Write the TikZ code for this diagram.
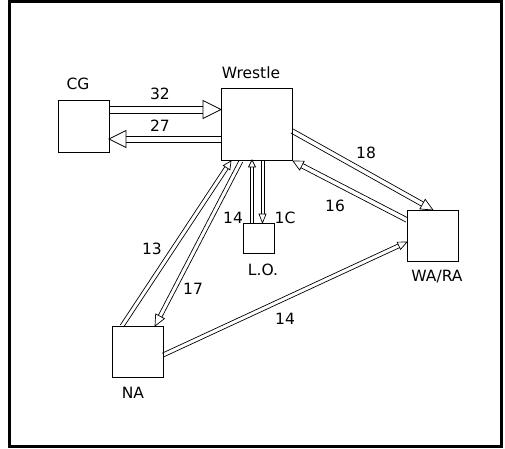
\documentclass[tikz,border=0pt]{standalone}
\usepackage{fontspec}
\setmainfont{DejaVu Sans}
\usetikzlibrary{calc}
\tikzset{
  box/.style={draw, line width=0.8pt, inner sep=0pt},
  conn/.style={draw, line width=0.7pt, line join=miter},
  lbl/.style={font=\fontsize{15.5}{17}\selectfont, inner sep=0pt},
}
\newcommand\dblarrow[5]{%
  \coordinate (dbase) at ($(#2)!#4!(#1)$);
  \draw[conn] ($(#1)!#3!90:(#2)$) -- ($(dbase)!#3!90:(#2)$);
  \draw[conn] ($(#1)!#3!-90:(#2)$) -- ($(dbase)!#3!-90:(#2)$);
  \draw[conn] ($(dbase)!#5!90:(#2)$) -- (#2) -- ($(dbase)!#5!-90:(#2)$) -- cycle;
}
\begin{document}
\begin{tikzpicture}[x=1pt, y=-1pt]
\useasboundingbox (0,0) rectangle (505,448);
\draw[line width=3pt] (9.5,1.5) rectangle (501.5,446);

% boxes
\node[box, minimum width=51pt, minimum height=52pt] (CG) at (83.5,126) {};
\node[box, minimum width=71pt, minimum height=72pt] (W) at (256.5,124) {};
\node[box, minimum width=31pt, minimum height=30pt] (LO) at (258.5,238) {};
\node[box, minimum width=51pt, minimum height=51pt] (WR) at (432.5,235.5) {};
\node[box, minimum width=51pt, minimum height=51pt] (NA) at (137.5,351.5) {};

% box labels
\node[lbl] (tCG) at (78,84) {CG};
\node[lbl] (tW) at (251,73) {Wrestle};
\node[lbl] (tLO) at (263,270) {L.O.};
\node[lbl] (tWR) at (437,277) {WA/RA};
\node[lbl] (tNA) at (133,393) {NA};

% connector end points
\coordinate (a32s) at (109,109.5);  \coordinate (a32e) at (221,109.5);
\coordinate (a27s) at (221,139);    \coordinate (a27e) at (109,139);
\coordinate (a18s) at (292,131);    \coordinate (a18e) at (433,210);
\coordinate (a16s) at (407,220);    \coordinate (a16e) at (293,161);
\coordinate (a14s) at (252,223);    \coordinate (a14e) at (252,160);
\coordinate (a1Cs) at (262.5,160);  \coordinate (a1Ce) at (262.5,223);
\coordinate (a13s) at (122,326);    \coordinate (a13e) at (231,161);
\coordinate (a17s) at (241,161);    \coordinate (a17e) at (155,326);
\coordinate (b14s) at (163,355);    \coordinate (b14e) at (407,242);

\dblarrow{a32s}{a32e}{3.5pt}{18pt}{9pt}
\dblarrow{a27s}{a27e}{3pt}{17pt}{8.5pt}
\dblarrow{a18s}{a18e}{2.3pt}{12pt}{5.5pt}
\dblarrow{a16s}{a16e}{2.3pt}{10pt}{5pt}
\dblarrow{a14s}{a14e}{1.8pt}{7pt}{3.5pt}
\dblarrow{a1Cs}{a1Ce}{1.6pt}{9pt}{3.5pt}
\dblarrow{a13s}{a13e}{2pt}{8pt}{4pt}
\dblarrow{a17s}{a17e}{2pt}{11pt}{5pt}
\dblarrow{b14s}{b14e}{2pt}{9pt}{4pt}

% connector labels
\node[lbl] (l32) at (160,94) {32};
\node[lbl] (l27) at (160,126) {27};
\node[lbl] (l18) at (366,153) {18};
\node[lbl] (l16) at (335,206) {16};
\node[lbl] (l14a) at (233,218) {14};
\node[lbl] (l1C) at (285,218) {1C};
\node[lbl] (l13) at (152,249) {13};
\node[lbl] (l17) at (193,289) {17};
\node[lbl] (l14b) at (285,319) {14};
\end{tikzpicture}
\end{document}
